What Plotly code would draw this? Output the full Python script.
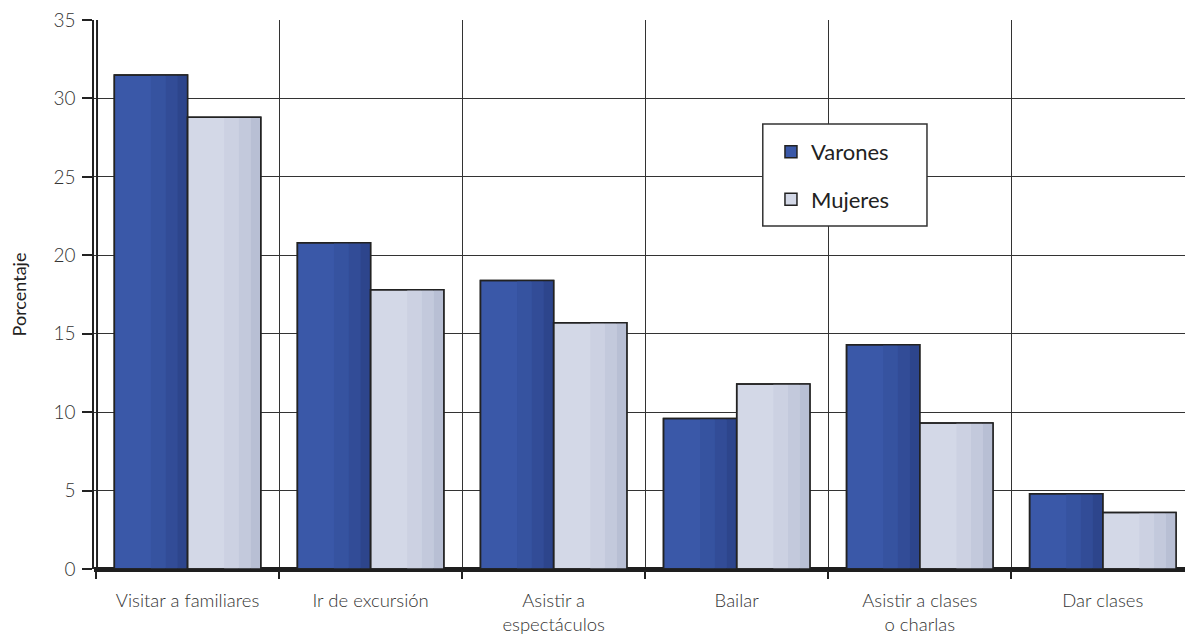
import plotly.graph_objects as go

categorias = ["Visitar a familiares", "Ir de excursión", "Asistir a<br>espectáculos",
              "Bailar", "Asistir a clases<br>o charlas", "Dar clases"]
varones = [31.5, 20.8, 18.4, 9.6, 14.3, 4.8]
mujeres = [28.8, 17.8, 15.7, 11.8, 9.3, 3.6]
ticks_y = [0, 5, 10, 15, 20, 25, 30, 35]

FONT = "Lato"
TXT = "#333333"
EDGE = "#222222"
BAR_W = 0.4

# (name, values, offset, base colour, shading bands as (start, end, colour) fractions of bar width)
series = [
    ("Varones", varones, -BAR_W, "#3a58a8",
     [(0.50, 0.70, "#3653a0"), (0.70, 0.86, "#324c97"), (0.86, 1.0, "#2d458c")]),
    ("Mujeres", mujeres, 0.0, "#d3d8e7",
     [(0.50, 0.70, "#ccd1e2"), (0.70, 0.86, "#c3c9dc"), (0.86, 1.0, "#b8bfd4")]),
]

fig = go.Figure()
for name, vals, off, col, bands in series:
    fig.add_trace(go.Bar(
        x=categorias, y=vals, name=name, legendgroup=name,
        offset=off, width=BAR_W,
        marker=dict(color=col, line=dict(color=EDGE, width=1.5)),
    ))
    # cylinder-like shading toward the right side of each bar
    for a, b, c in bands:
        fig.add_trace(go.Bar(
            x=categorias, y=vals, legendgroup=name, showlegend=False, hoverinfo="skip",
            offset=off + a * BAR_W, width=(b - a) * BAR_W,
            marker=dict(color=c, line=dict(width=0)),
        ))
    # outline drawn on top of the shading
    fig.add_trace(go.Bar(
        x=categorias, y=vals, legendgroup=name, showlegend=False, hoverinfo="skip",
        offset=off, width=BAR_W,
        marker=dict(color="rgba(0,0,0,0)", line=dict(color=EDGE, width=1.5)),
    ))

# back-wall edge of the frame, slightly offset from the y axis line
fig.add_shape(type="line", xref="x domain", yref="y",
              x0=0.003, x1=0.003, y0=0, y1=35.2,
              line=dict(color=EDGE, width=1.5))
# legend frame
fig.add_shape(type="rect", xref="x domain", yref="y domain", layer="above",
              x0=0.613, x1=0.7635, y0=0.6248, y1=0.8106,
              fillcolor="white", line=dict(color="#333333", width=1.5))

fig.update_layout(
    width=1185, height=637,
    margin=dict(l=94, r=0, t=20, b=68),
    paper_bgcolor="white", plot_bgcolor="white",
    barmode="overlay",
    font=dict(family=FONT, size=18, color=TXT, weight=300),
    legend=dict(
        x=0.6205, y=0.798, xanchor="left", yanchor="top",
        bgcolor="rgba(0,0,0,0)", borderwidth=0,
        font=dict(size=22, color="#222222", weight="normal"),
        tracegroupgap=16, itemwidth=30,
    ),
    xaxis=dict(
        type="category", range=[-0.511, 5.449], tickson="boundaries",
        showgrid=True, gridcolor="#333333", gridwidth=1,
        ticks="outside", ticklen=9, tickcolor=EDGE, tickwidth=1.5,
        showline=False, ticklabelstandoff=18,
        tickfont=dict(size=18.5, color=TXT, weight=300),
    ),
    yaxis=dict(
        range=[0, 35], tickvals=ticks_y, showgrid=True,
        gridcolor="#333333", gridwidth=1,
        ticks="outside", ticklen=10, tickcolor=EDGE, tickwidth=1.5,
        showline=True, linecolor=EDGE, linewidth=1.5,
        zeroline=True, zerolinecolor="#1e1e1e", zerolinewidth=5,
        ticklabelstandoff=3,
        tickfont=dict(size=19, color=TXT, weight=300),
        title=dict(text="Porcentaje", font=dict(size=18, color=EDGE, weight="normal"),
                   standoff=22),
    ),
)

fig.write_html("out.html")
